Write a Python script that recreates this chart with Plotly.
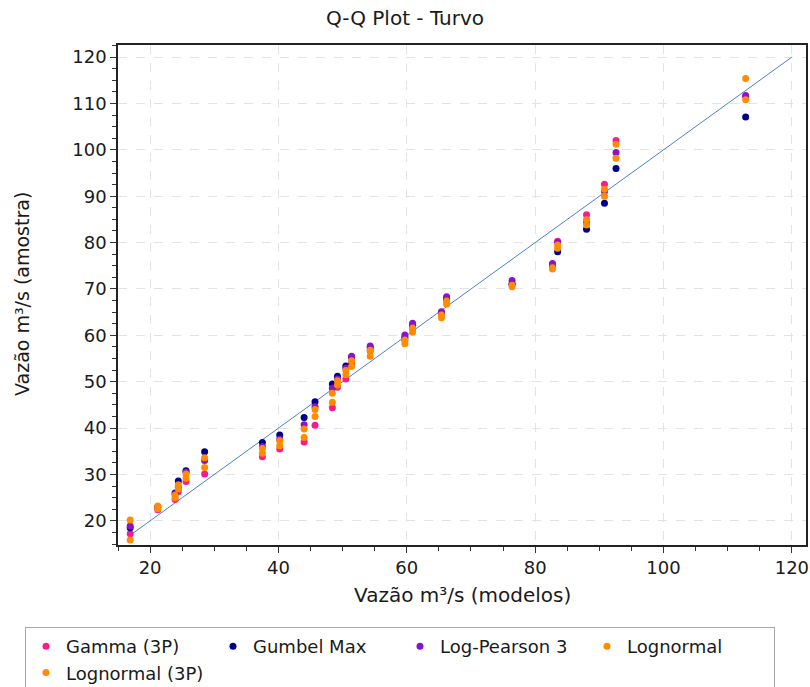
import plotly.graph_objects as go

# Quantis dos modelos (eixo x) e da amostra para cada distribuição ajustada
x_modelos = [16.9, 21.2, 23.9, 24.4, 25.6, 28.5, 37.5, 40.2, 44.0, 45.7,
             48.4, 49.2, 50.5, 51.4, 54.3, 59.7, 60.9, 65.4, 66.2, 76.4,
             82.7, 83.5, 88.0, 90.8, 92.6, 112.8]

gamma_3p = [17.2, 22.4, 24.6, 26.3, 28.5, 30.1, 33.8, 35.5, 37.0, 40.6,
            44.4, 48.8, 50.6, 54.0, 56.7, 59.0, 61.5, 64.6, 67.7, 71.2,
            75.0, 80.3, 86.0, 92.6, 102.0, 111.4]

gumbel_max = [18.5, 23.0, 26.0, 28.6, 30.8, 34.9, 36.9, 38.5, 42.3, 45.7,
              49.5, 51.2, 53.4, 55.3, 57.4, 59.6, 62.2, 64.8, 67.9, 71.0,
              74.8, 78.0, 82.9, 88.5, 96.0, 107.1]

log_pearson3 = [18.9, 22.9, 25.8, 27.2, 30.5, 33.0, 36.0, 37.6, 40.7, 44.6,
                48.6, 50.6, 52.9, 55.5, 57.7, 60.1, 62.6, 65.1, 68.3, 71.8,
                75.5, 80.0, 84.5, 91.0, 99.4, 111.7]

lognormal = [15.9, 22.6, 25.0, 26.9, 29.2, 31.5, 34.6, 36.2, 38.0, 42.5,
             45.6, 49.3, 51.5, 53.3, 55.5, 58.2, 60.7, 63.8, 66.7, 70.5,
             74.3, 79.5, 84.9, 91.5, 101.2, 115.4]

lognormal_3p = [20.2, 23.2, 25.5, 27.8, 30.1, 33.6, 35.6, 37.3, 39.8, 44.0,
                47.5, 50.2, 52.4, 54.5, 56.8, 59.0, 61.6, 64.4, 67.4, 70.8,
                74.6, 78.8, 83.8, 90.0, 98.2, 110.8]

series_names = ["Gamma (3P)", "Gumbel Max", "Log-Pearson 3", "Lognormal", "Lognormal (3P)"]
series_values = [gamma_3p, gumbel_max, log_pearson3, lognormal, lognormal_3p]
series_colors = ["#FF1A8C", "#00008B", "#8A14C8", "#FF8C00", "#FF8C00"]

# Reta de referência 1:1
ref_end = 120
ref_line = [min(x_modelos), ref_end]

W, H = 810, 687
L, R, T, B = 118, 4, 45, 142
font_family = "DejaVu Sans"

fig = go.Figure()

fig.add_trace(go.Scatter(
    x=ref_line, y=ref_line, mode="lines",
    line=dict(color="#4A80D0", width=1),
    showlegend=False, hoverinfo="skip",
))

for name, vals, color in zip(series_names, series_values, series_colors):
    fig.add_trace(go.Scatter(
        x=x_modelos, y=vals, mode="markers", name=name,
        marker=dict(color=color, size=7, line=dict(width=0)),
    ))

axis_common = dict(
    showline=True, linecolor="#222222", linewidth=1.5, mirror=True,
    ticks="outside", ticklen=6, tickcolor="#333333", tickwidth=1,
    showgrid=True, gridcolor="#E3E3E3", griddash="dash", gridwidth=1,
    zeroline=False, automargin=False,
    tickfont=dict(family=font_family, size=18, color="#1A1A1A"),
)

fig.update_xaxes(
    range=[15.0, 122.2], tick0=20, dtick=20,
    minor=dict(dtick=5, ticks="outside", ticklen=4, tickcolor="#333333", showgrid=False),
    **axis_common,
)
fig.update_yaxes(
    range=[14.8, 122.6], tick0=20, dtick=10,
    minor=dict(dtick=2.5, ticks="outside", ticklen=4, tickcolor="#333333", showgrid=False),
    **axis_common,
)

plot_w = W - L - R
plot_h = H - T - B

fig.update_layout(
    width=W, height=H,
    margin=dict(l=L, r=R, t=T, b=B, pad=0, autoexpand=False),
    paper_bgcolor="white", plot_bgcolor="white",
    font=dict(family=font_family, color="#1A1A1A"),
    title=dict(
        text="Q-Q Plot - Turvo", xref="container", x=0.5, xanchor="center",
        yref="container", y=1 - 18 / H, yanchor="middle",
        font=dict(family=font_family, size=20, color="#1A1A1A"),
    ),
    legend=dict(
        orientation="h", xref="paper", yref="paper",
        x=(25 - L) / plot_w, y=-(627 - (H - B)) / plot_h,
        xanchor="left", yanchor="top",
        bordercolor="#A8A8A8", borderwidth=1, bgcolor="white",
        font=dict(family=font_family, size=18, color="#1A1A1A"),
        entrywidth=142, entrywidthmode="pixels",
        itemsizing="trace", tracegroupgap=0,
    ),
    annotations=[
        dict(text="Vazão m³/s (modelos)", xref="paper", yref="paper",
             x=0.5, y=-(595 - (H - B)) / plot_h, xanchor="center", yanchor="middle",
             showarrow=False, font=dict(family=font_family, size=20, color="#1A1A1A")),
        dict(text="Vazão m³/s (amostra)", xref="paper", yref="paper",
             x=-(L - 22) / plot_w, y=((H - B) - 294) / plot_h,
             xanchor="center", yanchor="middle", textangle=-90,
             showarrow=False, font=dict(family=font_family, size=19, color="#1A1A1A")),
    ],
)

fig.write_html("out.html")
